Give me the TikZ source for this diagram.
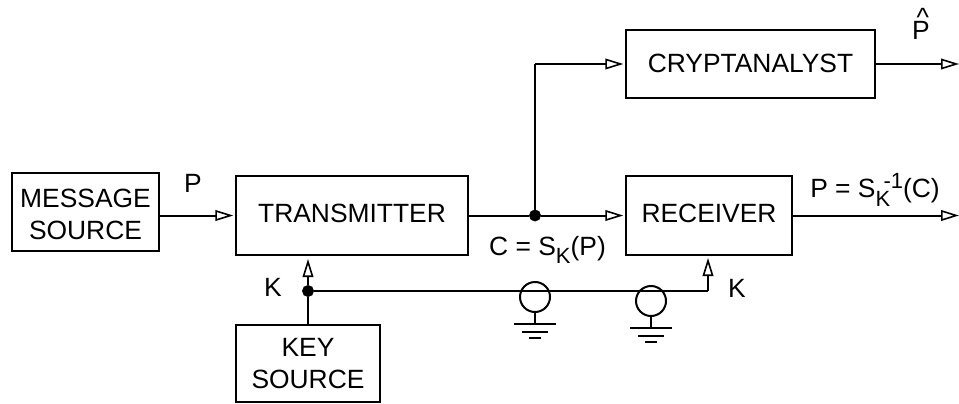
\documentclass[tikz,border=0pt]{standalone}
\usepackage{fontspec}
\setmainfont{Liberation Sans}
\usepackage{tikz}
\usetikzlibrary{arrows.meta}
\tikzset{
    block/.style={rectangle, draw=black, line width=1.5pt, inner sep=0pt, outer sep=0pt, align=center},
    lbl/.style={inner sep=0pt, outer sep=0pt},
    junction/.style={circle, draw=black, fill=black, inner sep=0pt, minimum size=8.5pt},
    tap/.style={circle, draw=black, line width=1.5pt, inner sep=0pt, outer sep=0pt, minimum size=22.5pt},
    wire/.style={line width=1.5pt},
    flow/.style={wire, -{Triangle[open, length=13.5pt, width=8pt, line width=1.2pt]}, shorten >=2pt},
}
\newcommand{\subk}{\raisebox{-.32em}{\fontsize{16.5}{16.5}\selectfont K}}
\newcommand{\subsupk}{\rlap{\raisebox{-.32em}{\fontsize{16.5}{16.5}\selectfont K}}\hspace{.3em}\raisebox{.34em}{\fontsize{16.5}{16.5}\selectfont -1}}
\begin{document}
\begin{tikzpicture}[x=.75pt, y=-.75pt, font=\fontsize{19.8}{24}\selectfont]
                 \useasboundingbox (0,0) rectangle (959,403);
                 % boxes
                 \node[block, minimum width=110.25pt, minimum height=58.5pt] (message) at (85.5,212) {\rule{0pt}{17pt}MESSAGE\\SOURCE};
                 \node[block, minimum width=174pt, minimum height=59.25pt, text height=14pt, text depth=3pt] (transmitter) at (352,215.5) {TRANSMITTER};
                 \node[block, minimum width=124.5pt, minimum height=59.25pt, text height=14pt, text depth=3pt] (receiver) at (709,215.5) {RECEIVER};
                 \node[block, minimum width=186.75pt, minimum height=51pt, text height=14pt, text depth=1pt] (cryptanalyst) at (750.5,64) {CRYPTANALYST};
                 \node[block, minimum width=108pt, minimum height=57.75pt] (key) at (308,363.5) {KEY\\SOURCE};
                 % junctions and free ends
                 \coordinate (corner) at (708,291);
                 \coordinate (upper) at (535,64);
                 \coordinate (outp) at (959,64);
                 \coordinate (outc) at (959,215.5);
                 \coordinate (rxkey) at (708,254);
                 \node[junction] (dotc) at (535,215.5) {};
                 \node[junction] (dotk) at (key.north |- corner) {};
                 \coordinate (txkey) at (dotk |- transmitter.south);
                 % connectors
                 \draw[flow] (message.east |- transmitter.west) -- (transmitter.west);
                 \draw[wire] (transmitter.east) -- (dotc);
                 \draw[flow] (dotc) -- (receiver.west);
                 \draw[wire] (dotc) -- (upper);
                 \draw[flow] (upper) -- (cryptanalyst.west);
                 \draw[flow, shorten >=0pt] (cryptanalyst.east) -- (outp);
                 \draw[flow, shorten >=0pt] (receiver.east) -- (outc);
                 \draw[wire] (key.north) -- (dotk);
                 \draw[flow, shorten >=3pt] (dotk) -- (txkey);
                 \draw[wire] (dotk) -- (corner);
                 \draw[flow, shorten >=3pt] (corner) -- (rxkey);
                 % the two grounded taps
                 \node[tap] (tapa) at (535,297) {};
                 \node[tap] (tapb) at (651,301) {};
                 \coordinate (gnda) at (535,324);
                 \coordinate (gndb) at (651,328);
                 \draw[wire] (tapa.south) -- (gnda);
                 \draw[wire] (tapb.south) -- (gndb);
                 \draw[wire] (gnda) ++(-21,0) -- ++(42,0);
                 \draw[wire] (gnda) ++(-13,8) -- ++(26,0);
                 \draw[wire] (gnda) ++(-6,14) -- ++(12,0);
                 \draw[wire] (gndb) ++(-21,0) -- ++(42,0);
                 \draw[wire] (gndb) ++(-13,8) -- ++(26,0);
                 \draw[wire] (gndb) ++(-6,14) -- ++(12,0);
                 % labels
                 \node[lbl] (lblp) at (193,183) {P};
                 \node[lbl] (lblhat) at (921,30) {\rlap{\hspace{.17em}\smash{\raisebox{.47em}{\^{}}}}P};
                 \node[lbl] (lblc) at (547.5,250) {C = S\subk(P)};
                 \node[lbl] (lblout) at (875,190) {P = S\subsupk(C)};
                 \node[lbl] (lblka) at (273,287) {K};
                 \node[lbl] (lblkb) at (737,288) {K};
\end{tikzpicture}
\end{document}
